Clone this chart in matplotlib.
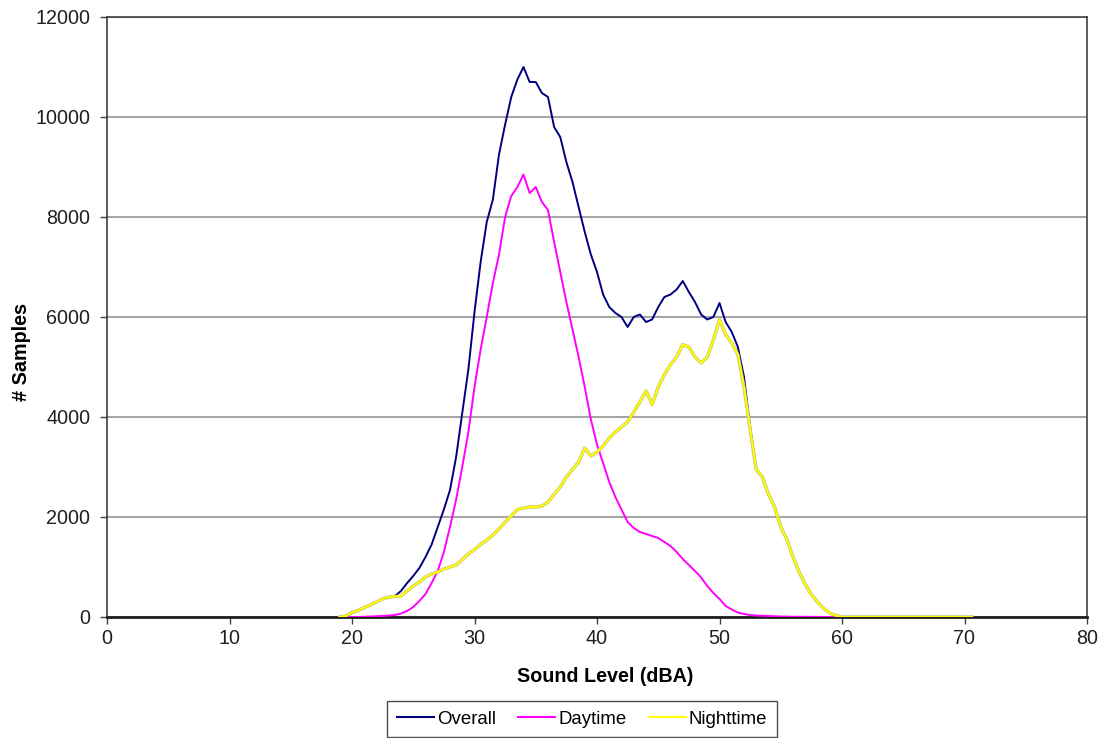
import matplotlib
matplotlib.use("Agg")
import matplotlib.pyplot as plt
import matplotlib.patheffects as pe
import numpy as np

plt.rcParams['font.family'] = ['Liberation Sans', 'DejaVu Sans']

# Sound level (dBA) grid for the sampled values
levels = [19.0, 19.5, 20.0, 20.5, 21.0, 21.5, 22.0, 22.5, 23.0, 23.5,
          24.0, 24.5, 25.0, 25.5, 26.0, 26.5, 27.0, 27.5, 28.0, 28.5,
          29.0, 29.5, 30.0, 30.5, 31.0, 31.5, 32.0, 32.5, 33.0, 33.5,
          34.0, 34.5, 35.0, 35.5, 36.0, 36.5, 37.0, 37.5, 38.0, 38.5,
          39.0, 39.5, 40.0, 40.5, 41.0, 41.5, 42.0, 42.5, 43.0, 43.5,
          44.0, 44.5, 45.0, 45.5, 46.0, 46.5, 47.0, 47.5, 48.0, 48.5,
          49.0, 49.5, 50.0, 50.5, 51.0, 51.5, 52.0, 52.5, 53.0, 53.5,
          54.0, 54.5, 55.0, 55.5, 56.0, 56.5, 57.0, 57.5, 58.0, 58.5,
          59.0, 59.5, 60.0, 62.0, 64.0, 66.0, 68.0, 70.0, 70.6]

overall = [0, 0, 80, 130, 180, 240, 300, 360, 390, 420,
           520, 680, 820, 980, 1200, 1450, 1800, 2150, 2540, 3200,
           4080, 4950, 6100, 7100, 7900, 8350, 9250, 9850, 10400, 10750,
           11000, 10700, 10700, 10480, 10400, 9800, 9600, 9100, 8700, 8200,
           7700, 7250, 6900, 6450, 6200, 6080, 6000, 5800, 6000, 6050,
           5900, 5950, 6200, 6400, 6450, 6550, 6720, 6500, 6300, 6050,
           5950, 6000, 6280, 5900, 5700, 5400, 4800, 3800, 2950, 2800,
           2450, 2200, 1800, 1550, 1200, 900, 650, 450, 300, 170,
           80, 30, 0, 0, 0, 0, 0, 0, 0]

daytime = [0, 0, 0, 0, 5, 10, 15, 20, 30, 40,
           70, 120, 200, 320, 460, 680, 920, 1300, 1800, 2350,
           3000, 3700, 4600, 5350, 6000, 6680, 7250, 8000, 8420, 8600,
           8850, 8480, 8600, 8300, 8140, 7500, 6900, 6300, 5750, 5200,
           4600, 3950, 3450, 3080, 2700, 2400, 2150, 1900, 1780, 1700,
           1660, 1620, 1580, 1500, 1420, 1300, 1160, 1040, 920, 790,
           620, 480, 360, 220, 150, 90, 60, 40, 30, 25,
           20, 15, 10, 8, 5, 5, 4, 3, 2, 1,
           0, 0, 0, 0, 0, 0, 0, 0, 0]

nighttime = [0, 20, 90, 130, 190, 240, 300, 360, 400, 410,
             420, 520, 620, 700, 800, 860, 900, 960, 1000, 1040,
             1150, 1260, 1350, 1450, 1540, 1640, 1760, 1900, 2020, 2150,
             2180, 2200, 2200, 2220, 2300, 2450, 2600, 2800, 2950, 3100,
             3380, 3220, 3300, 3420, 3580, 3700, 3800, 3900, 4100, 4300,
             4520, 4250, 4600, 4850, 5050, 5200, 5450, 5400, 5200, 5080,
             5200, 5540, 5950, 5650, 5480, 5250, 4600, 3750, 2950, 2800,
             2450, 2200, 1800, 1550, 1200, 900, 650, 450, 300, 170,
             80, 30, 0, 0, 0, 0, 0, 0, 0]

series_names = ["Overall", "Daytime", "Nighttime"]
x_ticks = [0, 10, 20, 30, 40, 50, 60, 70, 80]
y_ticks = [0, 2000, 4000, 6000, 8000, 10000, 12000]

fig = plt.figure(figsize=(11.03, 7.38), dpi=100)
ax = fig.add_axes([107/1103, 121/738, 980/1103, 600/738])

ax.plot(levels, overall, color='#000080', lw=1.4, label=series_names[0], zorder=3)
ax.plot(levels, daytime, color='#FF00FF', lw=1.4, label=series_names[1], zorder=4)
ax.plot(levels, nighttime, color='#FFFF00', lw=1.4, label=series_names[2], zorder=5,
        path_effects=[pe.Stroke(linewidth=2.4, foreground='#c8c070'), pe.Normal()])

ax.set_xlim(0, 80)
ax.set_ylim(0, 12000)
ax.set_xticks(x_ticks)
ax.set_yticks(y_ticks)
ax.yaxis.grid(True, color='#a6a6a6', lw=1.5)
ax.set_axisbelow(True)
ax.tick_params(axis='both', direction='out', length=5, width=1, color='#404040',
               labelsize=14.2, labelcolor='#202020', pad=4)
ax.tick_params(axis='y', pad=7)
for s in ['left', 'right', 'top']:
    ax.spines[s].set_color('#404040')
    ax.spines[s].set_linewidth(1.2)
ax.spines['bottom'].set_color('#202020')
ax.spines['bottom'].set_linewidth(2)

fig.text(605/1103, 1 - 676/738, "Sound Level (dBA)", ha='center', va='center',
         fontsize=14.2, fontweight='bold')
fig.text(22/1103, 1 - 352/738, "# Samples", ha='center', va='center',
         fontsize=14.2, fontweight='bold', rotation=90)

leg = fig.legend(loc='center', bbox_to_anchor=(582/1103, 1 - 719/738), ncol=3,
                 frameon=True, fancybox=False, fontsize=13.4, handlelength=2.0,
                 handletextpad=0.15, columnspacing=1.2, borderpad=0.5)
leg.get_frame().set_edgecolor('#202020')
leg.get_frame().set_linewidth(1.0)
for line in leg.get_lines():
    line.set_path_effects([])
    line.set_linewidth(1.5)

fig.savefig("out.png", dpi=100)
